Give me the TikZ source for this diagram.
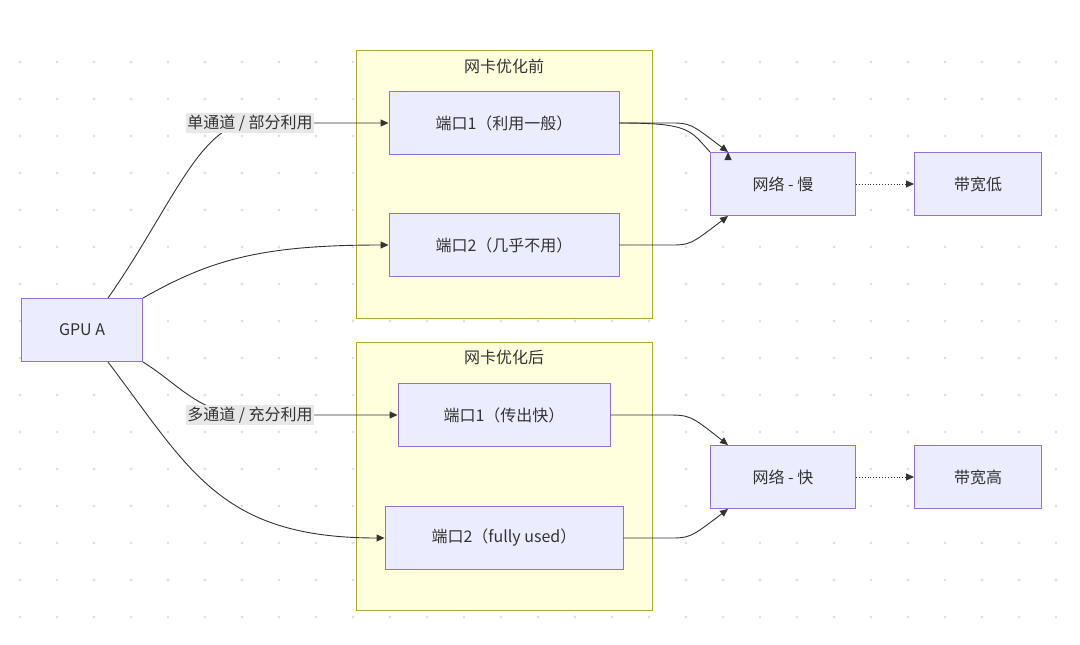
\documentclass[tikz,border=0pt]{standalone}
\usepackage{fontspec}
\setmainfont{Noto Sans CJK SC}
\usetikzlibrary{arrows.meta,positioning}
\definecolor{nodefill}{HTML}{ECECFF}
\definecolor{nodeline}{HTML}{9370DB}
\definecolor{clusfill}{HTML}{FFFFDE}
\definecolor{clusline}{HTML}{AAAA33}
\definecolor{edge}{HTML}{333333}
\definecolor{lblfill}{HTML}{E8E8E8}
\tikzset{
	box/.style={draw=nodeline, fill=nodefill, line width=0.9pt, minimum height=63pt, font=\fontsize{16}{18}\selectfont, text=edge},
	cluster/.style={draw=clusline, fill=clusfill, line width=0.9pt},
	arr/.style={draw=edge, line width=0.9pt, -{Triangle[length=8pt,width=7pt]}},
	darr/.style={arr, dotted},
	lbl/.style={fill=lblfill, inner sep=1.5pt, font=\fontsize{16}{18}\selectfont, text=edge},
	ctitle/.style={font=\fontsize{16}{18}\selectfont, text=edge}
}
\begin{document}
\begin{tikzpicture}[x=1pt,y=-1pt]
	\useasboundingbox (0,0) rectangle (1080,645);
	% dot grid
	\foreach \i in {0,...,28} {
		\foreach \j in {0,...,16} {
			\fill[black!12] (20+37*\i,62+37*\j) circle (1.6pt);
		}
	}

	\draw[cluster] (356,50) rectangle (652,318);
	\draw[cluster] (356,342) rectangle (652,610);
	\node[ctitle] (t1) at (504,66) {网卡优化前};
	\node[ctitle] (t2) at (504,357) {网卡优化后};

	\node[box, minimum width=121pt] (gpu) at (82,330) {GPU A};
	\node[box, minimum width=230pt] (p1a) at (504,123) {端口1（利用一般）};
	\node[box, minimum width=230pt] (p2a) at (504,245) {端口2（几乎不用）};
	\node[box, minimum width=212pt] (p1b) at (504,415) {端口1（传出快）};
	\node[box, minimum width=238pt] (p2b) at (504,538) {端口2（fully used）};
	\node[box, minimum width=145pt] (slow) at (783,184) {网络 - 慢};
	\node[box, minimum width=127pt] (low) at (978,184) {带宽低};
	\node[box, minimum width=145pt] (fast) at (783,477) {网络 - 快};
	\node[box, minimum width=127pt] (high) at (978,477) {带宽高};

	\coordinate (l1) at (250,123);
	\coordinate (l2) at (250,415);

	\draw[arr] (gpu.north east) ++(-35,0) .. controls (170,210) and (200,123) .. (l1) -- (p1a.west);
	\draw[arr] (gpu.north east) .. controls (210,260) and (260,245) .. (p2a.west);
	\draw[arr] (gpu.south east) .. controls (180,385) and (200,415) .. (l2) -- (p1b.west);
	\draw[arr] (gpu.south east) ++(-35,0) .. controls (190,470) and (220,538) .. (p2b.west);

	\node[lbl] (e1) at (l1) {单通道 / 部分利用};
	\node[lbl] (e2) at (l2) {多通道 / 充分利用};

	\draw[arr] (p1a.east) .. controls (690,123) and (690,130) .. (slow.north west) ++(18,0);
	\draw[arr] (p1a.east) -- ++(50,0) .. controls (690,123) .. ([xshift=18pt]slow.north west);
	\draw[arr] (p2a.east) -- ++(50,0) .. controls (690,245) .. ([xshift=18pt]slow.south west);
	\draw[arr] (p1b.east) -- ++(55,0) .. controls (690,415) .. ([xshift=18pt]fast.north west);
	\draw[arr] (p2b.east) -- ++(45,0) .. controls (690,538) .. ([xshift=18pt]fast.south west);

	\draw[darr] (slow) -- (low);
	\draw[darr] (fast) -- (high);
\end{tikzpicture}
\end{document}
